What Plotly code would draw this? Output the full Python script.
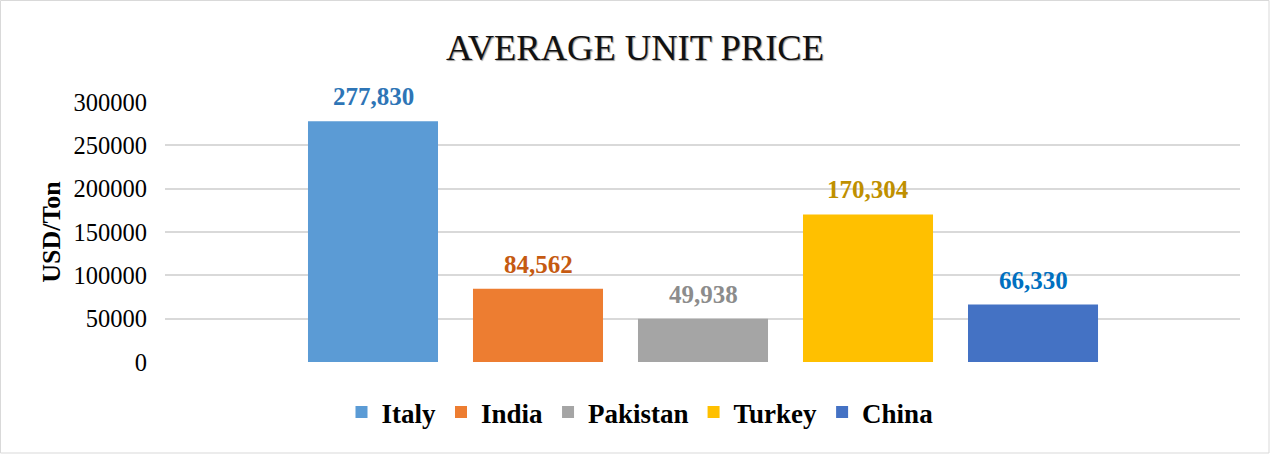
import plotly.graph_objects as go

countries = ["Italy", "India", "Pakistan", "Turkey", "China"]
prices = [277830, 84562, 49938, 170304, 66330]
bar_colors = ["#5B9BD5", "#ED7D31", "#A5A5A5", "#FFC000", "#4472C4"]
label_colors = ["#2E75B6", "#C55A11", "#8C8C8C", "#BF9000", "#0070C0"]
y_ticks = [0, 50000, 100000, 150000, 200000, 250000, 300000]

fig = go.Figure()
annotations = []
for name, val, bc, lc in zip(countries, prices, bar_colors, label_colors):
    fig.add_trace(go.Bar(
        name=name, x=[name], y=[val], width=0.788,
        marker=dict(color=bc, line=dict(width=0)),
    ))
    annotations.append(dict(
        x=name, y=val, xref="x", yref="y", text=f"{val:,}", showarrow=False,
        yanchor="bottom", yshift=9,
        font=dict(family="Liberation Serif", size=25, color=lc, weight="bold"),
    ))

fig.update_layout(
    width=1270, height=454,
    margin=dict(l=165, r=30, t=102, b=92, autoexpand=False),
    paper_bgcolor="white", plot_bgcolor="white",
    barmode="overlay",
    title=dict(text="AVERAGE UNIT PRICE", x=0.5, xanchor="center", y=0.897, yanchor="middle",
               font=dict(family="Liberation Serif", size=36.5, color="#111111",
                         shadow="1px 1px 1px #999999")),
    font=dict(family="Liberation Serif", color="#000000"),
    showlegend=True,
    legend=dict(orientation="h", x=(640 - 165) / 1075, xanchor="center", y=-0.1, yanchor="top",
                font=dict(family="Liberation Serif", size=27, color="#000000", weight="bold"),
                itemwidth=30, traceorder="normal"),
    annotations=annotations,
    shapes=[dict(type="rect", xref="paper", yref="paper",
                 x0=-164.5/1075, x1=1 + 29/1075, y0=-91/260, y1=1 + 101.5/260,
                 line=dict(color="#D9D9D9", width=1), fillcolor="rgba(0,0,0,0)", layer="below")],
)
fig.update_xaxes(type="category", categoryorder="array", categoryarray=countries,
                 range=[-1.2606, 5.2545],
                 showticklabels=False, showgrid=False, zeroline=False, showline=False, ticks="")
fig.update_yaxes(range=[0, 300000], tickvals=y_ticks, tickformat="d",
                 tickfont=dict(family="Liberation Serif", size=24.5, color="#000000"),
                 showgrid=True, gridcolor="#D9D9D9", gridwidth=1.5, zeroline=False,
                 ticks="", ticklabelstandoff=17,
                 title=dict(text="USD/Ton", standoff=5,
                            font=dict(family="Liberation Serif", size=26, color="#000000", weight="bold")))

fig.write_html("out.html", config={"displayModeBar": False},
               post_script="document.body.style.margin='0';document.body.style.overflow='hidden';")
